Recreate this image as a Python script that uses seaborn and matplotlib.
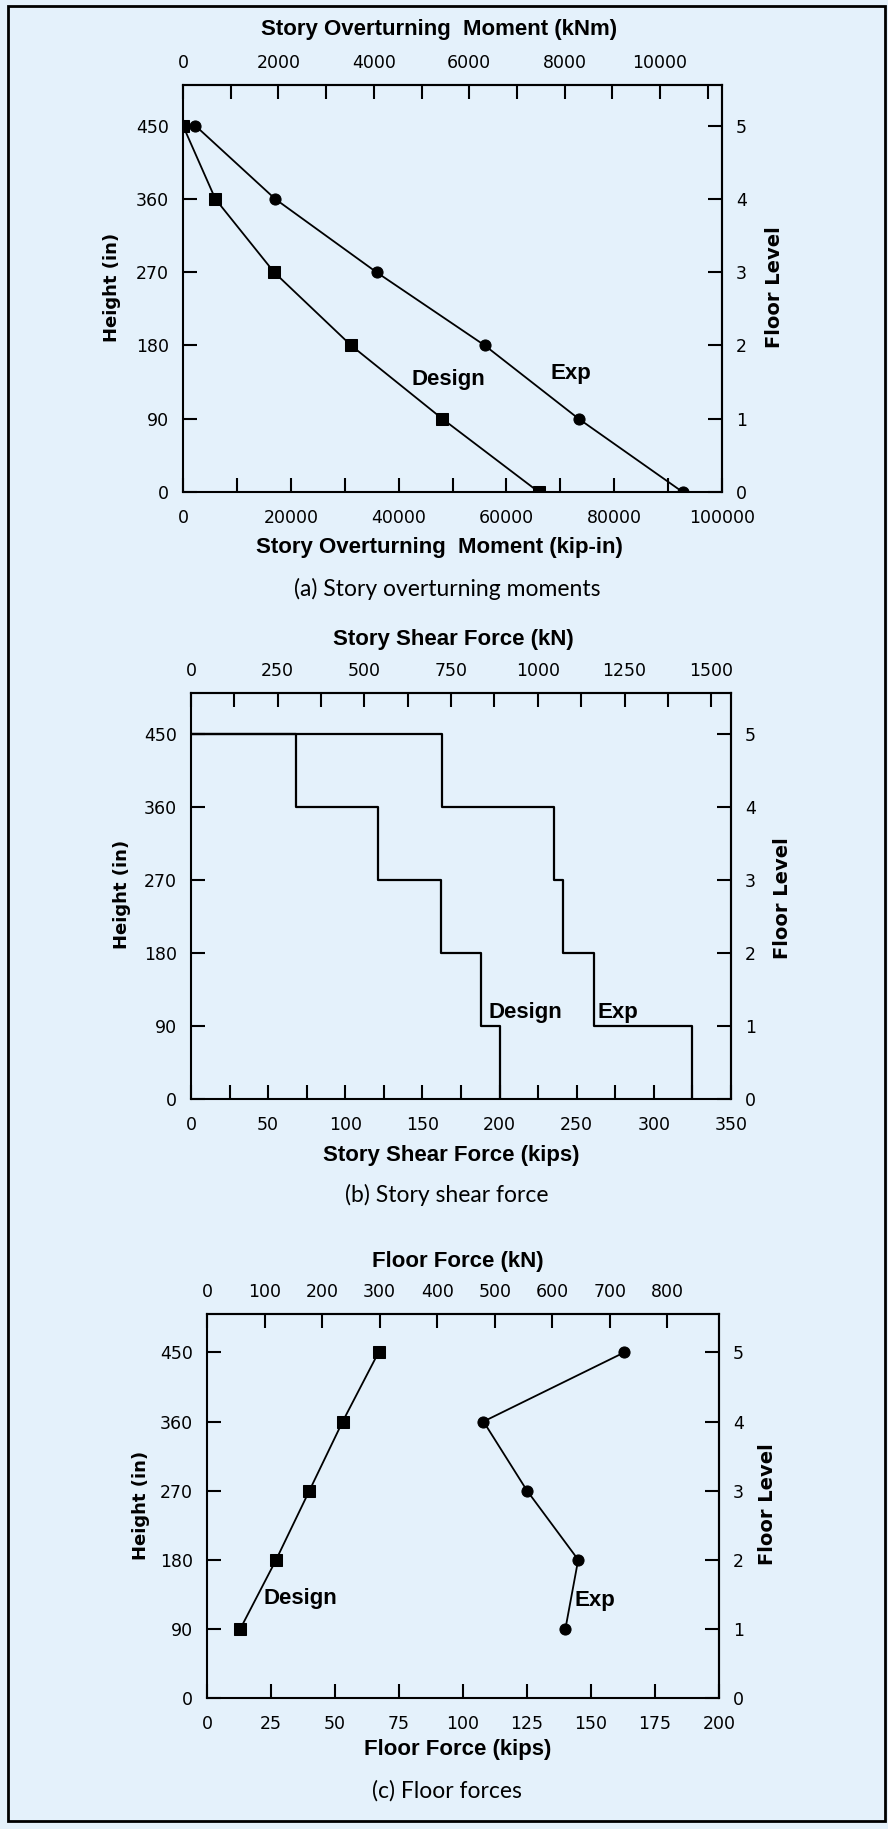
import matplotlib
matplotlib.use("Agg")
import matplotlib.pyplot as plt
import seaborn as sns
from matplotlib.patches import Rectangle
from matplotlib.ticker import MultipleLocator, FixedLocator

# ---- data -------------------------------------------------------------
heights = [450, 360, 270, 180, 90, 0]          # floor heights (in), roof to base
story_tops = [450, 360, 270, 180, 90]          # top of each story (stories 5..1)
floor_levels = [0, 1, 2, 3, 4, 5]

# (a) story overturning moment (kip-in) at each floor height
otm_design = [0, 6000, 16900, 31200, 48100, 66000]
otm_exp = [2300, 17100, 35900, 56000, 73400, 92700]

# (b) story shear force (kips), stories 5..1
shear_design = [68, 121, 162, 188, 200]
shear_exp = [163, 235, 241, 261, 325]

# (c) floor force (kips), floors 5..1
floor_design = [67, 53, 40, 27, 13]
floor_exp = [163, 108, 125, 145, 140]

# metric tick values on the top axes
knm_major = [0, 2000, 4000, 6000, 8000, 10000]
knm_minor = [1000, 3000, 5000, 7000, 9000, 11000]
shear_kn_major = [0, 250, 500, 750, 1000, 1250, 1500]
shear_kn_minor = [125, 375, 625, 875, 1125, 1375]
floor_kn_major = [0, 100, 200, 300, 400, 500, 600, 700, 800]

KIPIN_TO_KNM = 0.1129848
KIP_TO_KN = 4.448222
STORY_H = 90.0

# ---- style ------------------------------------------------------------
BG = "#E4F1FB"
W, H = 888, 1829
sns.set_theme(style="ticks", rc={"axes.facecolor": BG, "figure.facecolor": BG})
plt.rcParams["font.family"] = ["DejaVu Sans"]
plt.rcParams["text.color"] = "black"
plt.rcParams["axes.labelcolor"] = "black"

fig = plt.figure(figsize=(W / 100, H / 100), dpi=100)
fig.patch.set_facecolor(BG)
fig.add_artist(Rectangle((8 / W, 1 - 1821 / H), (885 - 8) / W, (1821 - 6) / H,
                         transform=fig.transFigure, fill=False, ec="black", lw=2.0))

TICK_FS = 12.5
LABEL_FONT = dict(family="Liberation Sans", weight="bold", fontsize=16)
HEIGHT_FONT = dict(family="DejaVu Sans", weight="bold", fontsize=13)
LEVEL_FONT = dict(family="DejaVu Sans", weight="bold", fontsize=14)
CAP_FONT = dict(family="Lato", fontsize=16.5)
NOTE_FONT = dict(family="Liberation Sans", weight="bold", fontsize=16)


def px_axes(left, right, top, bottom):
    return fig.add_axes([left / W, 1 - bottom / H, (right - left) / W, (bottom - top) / H])


def ftext(x, y, s, **kw):
    fig.text(x / W, 1 - y / H, s, ha="center", va="center", color="black", **kw)


def style_axes(ax, xmax, xmaj, xmin, top_fwd, top_inv, tmaj, tmin):
    ax.set_xlim(0, xmax)
    ax.set_ylim(0, 500)
    ax.set_yticks(heights)
    ax.xaxis.set_major_locator(MultipleLocator(xmaj))
    if xmin:
        ax.xaxis.set_minor_locator(MultipleLocator(xmin))
    ax.set_xlabel("")
    ax.set_ylabel("")
    for sp in ax.spines.values():
        sp.set_visible(True)
        sp.set_linewidth(1.5)
        sp.set_color("black")
    ax.tick_params(axis="x", which="both", direction="in", length=10, width=1.5,
                   labelsize=TICK_FS, pad=12, colors="black", top=False)
    ax.tick_params(axis="y", which="both", direction="in", length=10, width=1.5,
                   labelsize=TICK_FS, pad=10, colors="black", right=False)

    top = ax.secondary_xaxis("top", functions=(top_fwd, top_inv))
    top.xaxis.set_major_locator(FixedLocator(tmaj))
    if tmin:
        top.xaxis.set_minor_locator(FixedLocator(tmin))
    top.tick_params(which="both", direction="in", length=10, width=1.5,
                    labelsize=TICK_FS, pad=9, colors="black")
    top.spines["top"].set_linewidth(1.5)

    right = ax.secondary_yaxis("right", functions=(lambda h: h / STORY_H,
                                                   lambda f: f * STORY_H))
    right.yaxis.set_major_locator(FixedLocator(floor_levels))
    right.tick_params(which="both", direction="in", length=10, width=1.5,
                      labelsize=TICK_FS, pad=10, colors="black")
    right.spines["right"].set_linewidth(1.5)


def step_path(values):
    xs, ys = [0], [story_tops[0]]
    for v, top in zip(values, story_tops):
        xs += [v, v]
        ys += [top, top - STORY_H]
    return xs, ys


# ---- (a) story overturning moments -------------------------------------
ax_a = px_axes(183, 722, 85, 492)
sns.lineplot(x=otm_design, y=heights, sort=False, estimator=None, color="black",
             lw=1.3, marker="s", markersize=8, markeredgecolor="black", ax=ax_a)
sns.lineplot(x=otm_exp, y=heights, sort=False, estimator=None, color="black",
             lw=1.3, marker="o", markersize=8, markeredgecolor="black", ax=ax_a)
style_axes(ax_a, 100000, 20000, 10000,
           lambda x: x * KIPIN_TO_KNM, lambda m: m / KIPIN_TO_KNM, knm_major, knm_minor)
ax_a.text(49300, 138, "Design", ha="center", va="center", **NOTE_FONT)
ax_a.text(71900, 145, "Exp", ha="center", va="center", **NOTE_FONT)
ftext(439, 30, "Story Overturning  Moment (kNm)", **LABEL_FONT)
ftext(439, 547, "Story Overturning  Moment (kip-in)", **LABEL_FONT)
ftext(112, 287, "Height (in)", rotation=90, **HEIGHT_FONT)
ftext(774, 287, "Floor Level", rotation=90, **LEVEL_FONT)
ftext(447, 589, "(a) Story overturning moments", **CAP_FONT)

# ---- (b) story shear force ---------------------------------------------
ax_b = px_axes(191, 731, 693, 1099)
xs_d, ys_d = step_path(shear_design)
xs_e, ys_e = step_path(shear_exp)
sns.lineplot(x=xs_d, y=ys_d, sort=False, estimator=None, color="black", lw=1.6, ax=ax_b)
sns.lineplot(x=xs_e, y=ys_e, sort=False, estimator=None, color="black", lw=1.6, ax=ax_b)
style_axes(ax_b, 350, 50, 25,
           lambda x: x * KIP_TO_KN, lambda k: k / KIP_TO_KN, shear_kn_major, shear_kn_minor)
ax_b.text(217, 106, "Design", ha="center", va="center", **NOTE_FONT)
ax_b.text(277, 107, "Exp", ha="center", va="center", **NOTE_FONT)
ftext(453, 640, "Story Shear Force (kN)", **LABEL_FONT)
ftext(451, 1155, "Story Shear Force (kips)", **LABEL_FONT)
ftext(122, 894, "Height (in)", rotation=90, **HEIGHT_FONT)
ftext(782, 898, "Floor Level", rotation=90, **LEVEL_FONT)
ftext(447, 1195, "(b) Story shear force", **CAP_FONT)

# ---- (c) floor forces --------------------------------------------------
ax_c = px_axes(207, 719, 1314, 1698)
sns.lineplot(x=floor_design, y=story_tops, sort=False, estimator=None, color="black",
             lw=1.3, marker="s", markersize=8, markeredgecolor="black", ax=ax_c)
sns.lineplot(x=floor_exp, y=story_tops, sort=False, estimator=None, color="black",
             lw=1.3, marker="o", markersize=8, markeredgecolor="black", ax=ax_c)
style_axes(ax_c, 200, 25, None,
           lambda x: x * KIP_TO_KN, lambda k: k / KIP_TO_KN, floor_kn_major, None)
ax_c.text(36.5, 130, "Design", ha="center", va="center", **NOTE_FONT)
ax_c.text(151.7, 127, "Exp", ha="center", va="center", **NOTE_FONT)
ftext(458, 1261, "Floor Force (kN)", **LABEL_FONT)
ftext(458, 1750, "Floor Force (kips)", **LABEL_FONT)
ftext(141, 1505, "Height (in)", rotation=90, **HEIGHT_FONT)
ftext(767, 1504, "Floor Level", rotation=90, **LEVEL_FONT)
ftext(447, 1791, "(c) Floor forces", **CAP_FONT)

fig.savefig("out.png", dpi=100, facecolor=BG)
